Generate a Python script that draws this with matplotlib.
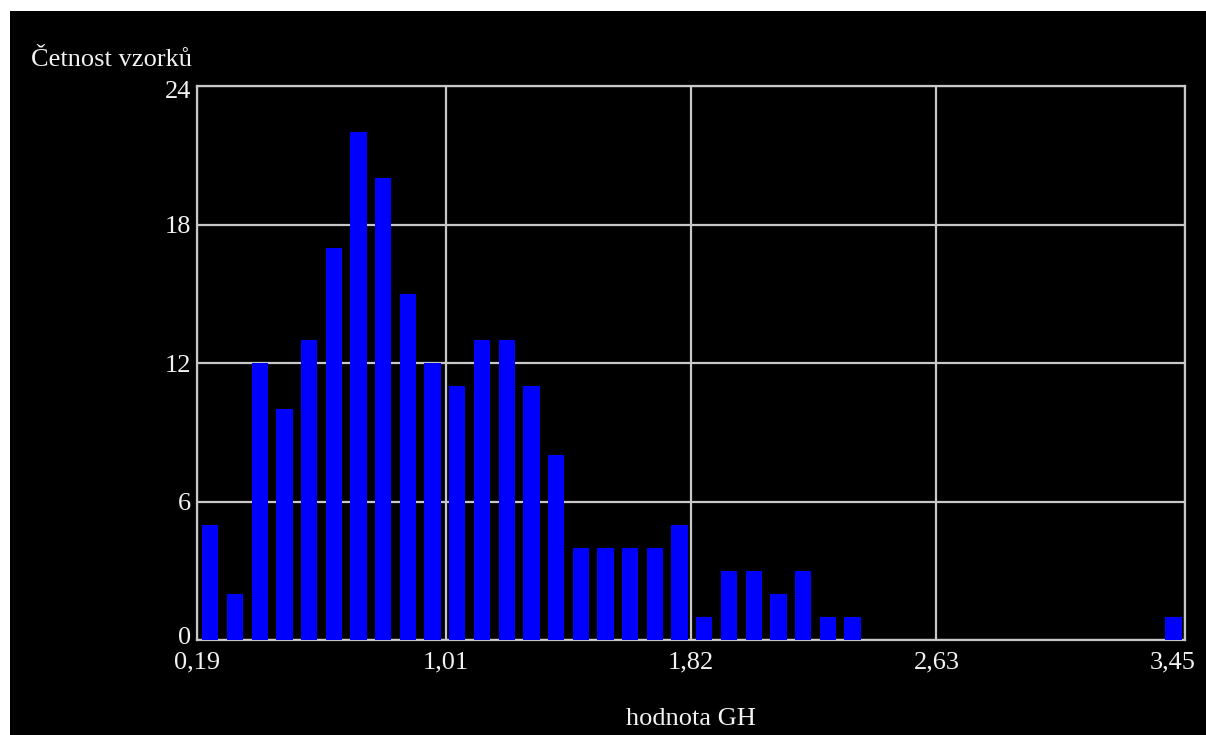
import numpy as np
import matplotlib
matplotlib.use("Agg")
from matplotlib import pyplot as plt
from matplotlib.patches import Rectangle
import matplotlib.transforms as mtransforms

# histogram counts, 40 bins between 0.19 and 3.45
counts = [5, 2, 12, 10, 13, 17, 22, 20, 15, 12,
          11, 13, 13, 11, 8, 4, 4, 4, 4, 5,
          1, 3, 3, 2, 3, 1, 1, 0, 0, 0,
          0, 0, 0, 0, 0, 0, 0, 0, 0, 1]
x_min = 0.19
x_max = 3.45
x_ticks = [0.19, 1.01, 1.82, 2.63, 3.45]
x_ticklabels = ['0,19', '1,01', '1,82', '2,63', '3,45']
y_ticks = [0, 6, 12, 18, 24]
y_label = 'Četnost vzorků'
x_label = 'hodnota GH'


def main():
	plt.rcParams['font.family'] = ['Liberation Serif', 'DejaVu Serif']
	txtcol = '#f2f2f2'
	gridcol = '#c8c8c8'
	fs = 19

	fig = plt.figure(figsize=(12.06, 7.35), dpi=100, facecolor='white')
	# black panel, leaving a thin white strip on top and left
	fig.patches.append(Rectangle((10/1206, 0), 1 - 10/1206, 1 - 11/735,
		transform=fig.transFigure, facecolor='black', edgecolor='none', zorder=-5))

	ax = fig.add_axes([197/1206, 1 - 640/735, (1185-197)/1206, (640-86)/735])
	ax.set_facecolor('black')

	edges = np.linspace(x_min, x_max, len(counts) + 1)
	w = edges[1] - edges[0]
	ax.bar(edges[:-1] + 0.21*w, counts, width=0.66*w, align='edge', color='#0000ff', zorder=3)

	ax.set_xlim(x_min, x_max)
	ax.set_ylim(0, 24)
	ax.set_xticks(x_ticks)
	ax.set_xticklabels(x_ticklabels)
	ax.set_yticks(y_ticks)
	ax.grid(True, color=gridcol, lw=1.6, zorder=1)
	for s in ax.spines.values():
		s.set_color(gridcol)
		s.set_linewidth(1.6)
	ax.tick_params(axis='both', length=0, colors=txtcol, labelsize=fs)
	ax.tick_params(axis='x', pad=8)
	ax.tick_params(axis='y', pad=4)

	# last x label is pulled back inside the picture
	lbl = ax.get_xticklabels()[-1]
	lbl.set_transform(lbl.get_transform() + mtransforms.ScaledTranslation(-12/100, 0, fig.dpi_scale_trans))
	# end labels of y axis sit a little inside the plot
	ylbls = ax.get_yticklabels()
	ylbls[0].set_transform(ylbls[0].get_transform() + mtransforms.ScaledTranslation(0, 4/100, fig.dpi_scale_trans))
	ylbls[-1].set_transform(ylbls[-1].get_transform() + mtransforms.ScaledTranslation(0, -4/100, fig.dpi_scale_trans))

	fig.text(192/1206, 1 - 66/735, y_label, ha='right', va='baseline', color=txtcol, fontsize=fs)
	fig.text(691/1206, 1 - 725/735, x_label, ha='center', va='baseline', color=txtcol, fontsize=fs)

	fig.savefig('out.png', dpi=100, facecolor=fig.get_facecolor())


main()
